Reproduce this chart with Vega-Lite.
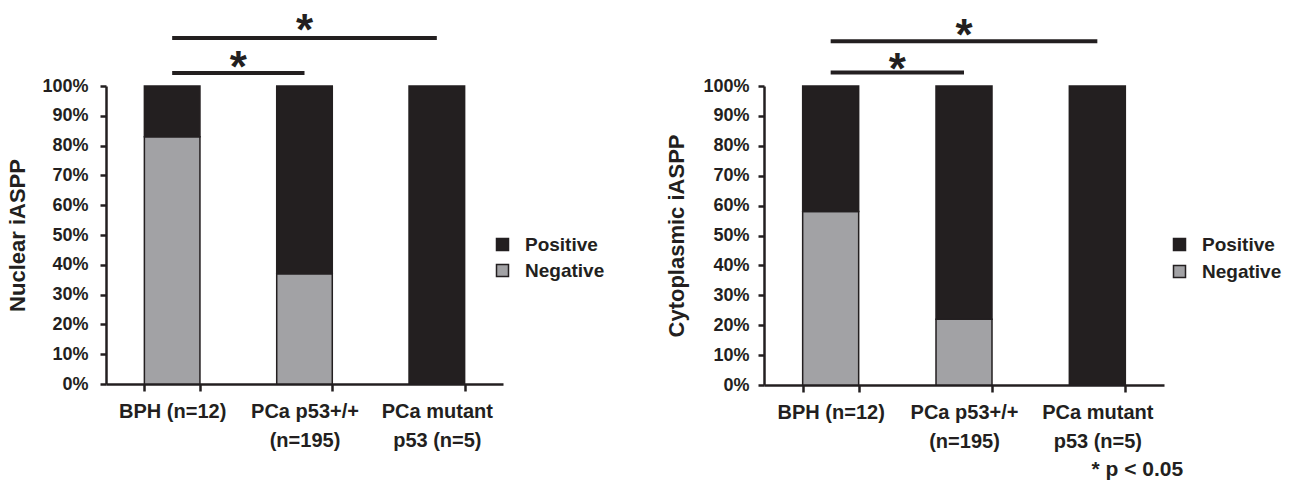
{
  "$schema": "https://vega.github.io/schema/vega-lite/v6.json",
  "background": "white",
  "padding": {"left": 6, "top": 10, "right": 5, "bottom": 5},
  "spacing": 60,
  "config": {
    "font": "Liberation Sans",
    "view": {"stroke": null},
    "axis": {
      "grid": false,
      "domainColor": "#231f20",
      "domainWidth": 2.5,
      "tickColor": "#231f20",
      "tickWidth": 2.5,
      "labelColor": "#231f20",
      "labelFontWeight": "bold",
      "titleColor": "#231f20",
      "titleFontWeight": "bold"
    },
    "axisY": {
      "format": ".0%",
      "values": [0, 0.1, 0.2, 0.3, 0.4, 0.5, 0.6, 0.7, 0.8, 0.9, 1],
      "labelFontSize": 18,
      "titleFontSize": 22,
      "tickSize": 6
    },
    "legend": {
      "padding": 0,
      "labelFontSize": 19,
      "labelFontWeight": "bold",
      "labelColor": "#231f20",
      "symbolType": "square",
      "symbolSize": 144,
      "symbolStrokeColor": "#231f20",
      "symbolStrokeWidth": 1.5,
      "labelOffset": 13
    }
  },
  "datasets": {
    "nuclear": [
      {"group": "BPH (n=12)", "status": "Negative", "value": 0.83},
      {"group": "BPH (n=12)", "status": "Positive", "value": 0.17},
      {"group": "PCa p53+/+|(n=195)", "status": "Negative", "value": 0.37},
      {"group": "PCa p53+/+|(n=195)", "status": "Positive", "value": 0.63},
      {"group": "PCa mutant|p53 (n=5)", "status": "Negative", "value": 0},
      {"group": "PCa mutant|p53 (n=5)", "status": "Positive", "value": 1}
    ],
    "cyto": [
      {"group": "BPH (n=12)", "status": "Negative", "value": 0.58},
      {"group": "BPH (n=12)", "status": "Positive", "value": 0.42},
      {"group": "PCa p53+/+|(n=195)", "status": "Negative", "value": 0.22},
      {"group": "PCa p53+/+|(n=195)", "status": "Positive", "value": 0.78},
      {"group": "PCa mutant|p53 (n=5)", "status": "Negative", "value": 0},
      {"group": "PCa mutant|p53 (n=5)", "status": "Positive", "value": 1}
    ],
    "nuclearBrackets": [
      {"x1": 0, "x2": 1, "y": 1.044},
      {"x1": 0, "x2": 2, "y": 1.161}
    ],
    "nuclearStars": [
      {"x": 0.5, "y": 1.015, "label": "*"},
      {"x": 1, "y": 1.136, "label": "*"}
    ],
    "cytoBrackets": [
      {"x1": 0, "x2": 1, "y": 1.045},
      {"x1": 0, "x2": 2, "y": 1.150}
    ],
    "cytoStars": [
      {"x": 0.5, "y": 1.007, "label": "*"},
      {"x": 1, "y": 1.119, "label": "*"}
    ],
    "footnote": [
      {"x": 2.3, "y": -0.284, "label": "* p < 0.05"}
    ]
  },
  "hconcat": [
    {
      "width": 397,
      "height": 298,
      "layer": [
        {
          "data": {"name": "nuclear"},
          "mark": {"type": "bar", "stroke": "#231f20", "strokeWidth": 1.5},
          "encoding": {
            "x": {
              "field": "group", "type": "nominal", "sort": null,
              "scale": {"paddingInner": 0.58, "paddingOuter": 0.29},
              "axis": {"title": null, "labelAngle": 0, "labelExpr": "split(datum.label, '|')", "labelFontSize": 20, "labelLineHeight": 29, "labelPadding": 10, "tickBand": "extent", "tickSize": 7}
            },
            "y": {
              "field": "value", "type": "quantitative", "stack": "zero",
              "scale": {"domain": [0, 1], "nice": false},
              "axis": {"title": "Nuclear iASPP", "titlePadding": 12, "labelPadding": 12}
            },
            "color": {
              "field": "status", "type": "nominal",
              "scale": {"domain": ["Positive", "Negative"], "range": ["#231f20", "#a2a2a5"]},
              "legend": {"title": null, "orient": "none", "legendX": 387, "legendY": 149, "rowPadding": 6}
            },
            "order": {"field": "status", "sort": "ascending"}
          }
        },
        {
          "data": {"name": "nuclearBrackets"},
          "mark": {"type": "rule", "strokeWidth": 4, "color": "#231f20"},
          "encoding": {
            "x": {"field": "x1", "type": "quantitative", "scale": {"domain": [-0.5, 2.5], "nice": false, "zero": false}, "axis": null},
            "x2": {"field": "x2"},
            "y": {"field": "y", "type": "quantitative", "scale": {"domain": [0, 1], "nice": false}, "axis": {"title": "Nuclear iASPP", "titlePadding": 12, "labelPadding": 12}}
          }
        },
        {
          "data": {"name": "nuclearStars"},
          "mark": {"type": "text", "fontSize": 44, "fontWeight": "bold", "baseline": "alphabetic", "align": "center", "color": "#231f20"},
          "encoding": {
            "x": {"field": "x", "type": "quantitative", "scale": {"domain": [-0.5, 2.5], "nice": false, "zero": false}, "axis": null},
            "y": {"field": "y", "type": "quantitative", "scale": {"domain": [0, 1], "nice": false}, "axis": {"title": "Nuclear iASPP", "titlePadding": 12, "labelPadding": 12}},
            "text": {"field": "label"}
          }
        }
      ],
      "resolve": {"scale": {"x": "independent"}}
    },
    {
      "width": 400,
      "height": 299,
      "layer": [
        {
          "data": {"name": "cyto"},
          "mark": {"type": "bar", "stroke": "#231f20", "strokeWidth": 1.5},
          "encoding": {
            "x": {
              "field": "group", "type": "nominal", "sort": null,
              "scale": {"paddingInner": 0.58, "paddingOuter": 0.29},
              "axis": {"title": null, "labelAngle": 0, "labelExpr": "split(datum.label, '|')", "labelFontSize": 20, "labelLineHeight": 29, "labelPadding": 10, "tickBand": "extent", "tickSize": 7}
            },
            "y": {
              "field": "value", "type": "quantitative", "stack": "zero",
              "scale": {"domain": [0, 1], "nice": false},
              "axis": {"title": "Cytoplasmic iASPP", "titlePadding": 14, "labelPadding": 9}
            },
            "color": {
              "field": "status", "type": "nominal",
              "scale": {"domain": ["Positive", "Negative"], "range": ["#231f20", "#a2a2a5"]},
              "legend": {"title": null, "orient": "none", "legendX": 406, "legendY": 149, "rowPadding": 7}
            },
            "order": {"field": "status", "sort": "ascending"}
          }
        },
        {
          "data": {"name": "cytoBrackets"},
          "mark": {"type": "rule", "strokeWidth": 4, "color": "#231f20"},
          "encoding": {
            "x": {"field": "x1", "type": "quantitative", "scale": {"domain": [-0.5, 2.5], "nice": false, "zero": false}, "axis": null},
            "x2": {"field": "x2"},
            "y": {"field": "y", "type": "quantitative", "scale": {"domain": [0, 1], "nice": false}, "axis": {"title": "Cytoplasmic iASPP", "titlePadding": 14, "labelPadding": 9}}
          }
        },
        {
          "data": {"name": "cytoStars"},
          "mark": {"type": "text", "fontSize": 44, "fontWeight": "bold", "baseline": "alphabetic", "align": "center", "color": "#231f20"},
          "encoding": {
            "x": {"field": "x", "type": "quantitative", "scale": {"domain": [-0.5, 2.5], "nice": false, "zero": false}, "axis": null},
            "y": {"field": "y", "type": "quantitative", "scale": {"domain": [0, 1], "nice": false}, "axis": {"title": "Cytoplasmic iASPP", "titlePadding": 14, "labelPadding": 9}},
            "text": {"field": "label"}
          }
        },
        {
          "data": {"name": "footnote"},
          "mark": {"type": "text", "fontSize": 21, "fontWeight": "bold", "baseline": "middle", "align": "center", "color": "#231f20"},
          "encoding": {
            "x": {"field": "x", "type": "quantitative", "scale": {"domain": [-0.5, 2.5], "nice": false, "zero": false}, "axis": null},
            "y": {"field": "y", "type": "quantitative", "scale": {"domain": [0, 1], "nice": false}, "axis": {"title": "Cytoplasmic iASPP", "titlePadding": 14, "labelPadding": 9}},
            "text": {"field": "label"}
          }
        }
      ],
      "resolve": {"scale": {"x": "independent"}}
    }
  ],
  "resolve": {"scale": {"color": "independent"}, "legend": {"color": "independent"}}
}
